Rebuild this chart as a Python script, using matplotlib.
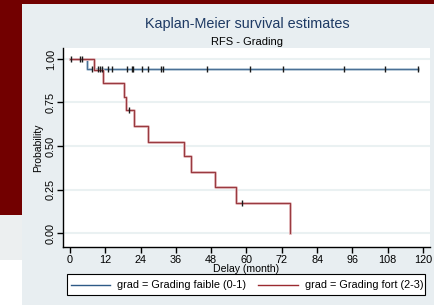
import matplotlib
matplotlib.use('Agg')
import matplotlib.pyplot as plt
from matplotlib.patches import Rectangle

plt.rcParams['font.family'] = ['Liberation Sans', 'DejaVu Sans']

# Kaplan-Meier step data (months, survival)
blue_times = [0, 5.7, 118.2]
blue_surv = [1.0, 0.943, 0.943]
blue_cens_top = [0.2, 3.3, 4.2]
blue_cens = [7.6, 9.5, 10.3, 11.0, 13.0, 14.2, 19.4, 21.0, 21.3, 24.4, 26.6,
             30.9, 31.5, 46.6, 61.1, 72.3, 93.0, 107.0, 118.2]

red_times = [0, 8.3, 11.3, 18.3, 19.0, 21.9, 26.6, 38.7, 41.0, 49.4, 56.3, 74.9]
red_surv = [1.0, 0.937, 0.86, 0.78, 0.705, 0.613, 0.525, 0.44, 0.35, 0.262, 0.175, 0.0]
red_cens_t = [20.0, 58.4]
red_cens_s = [0.705, 0.175]

xticks = list(range(0, 121, 12))
yticks = [0.0, 0.25, 0.5, 0.75, 1.0]
ytick_labels = ['0.00', '0.25', '0.50', '0.75', '1.00']
legend_labels = ['grad = Grading faible (0-1)', 'grad = Grading fort (2-3)']

W, H = 434, 305
fig = plt.figure(figsize=(W / 100, H / 100), dpi=100)
fig.patch.set_facecolor('white')

# background layer in pixel coords (top-left origin)
bg = fig.add_axes([0, 0, 1, 1], zorder=-5)
bg.set_xlim(0, W)
bg.set_ylim(H, 0)
bg.axis('off')
bg.add_patch(Rectangle((0, 0), W, 4, facecolor='#720000', edgecolor='none'))
bg.add_patch(Rectangle((0, 0), 22, 215, facecolor='#720000', edgecolor='none'))
bg.add_patch(Rectangle((0, 215), 22, 45, facecolor='#eceff0', edgecolor='none'))
bg.add_patch(Rectangle((22, 4), W - 22, H - 4, facecolor='#e8eef1', edgecolor='none'))

# legend box, drawn by hand
bg.add_patch(Rectangle((67, 274), 358, 21, facecolor='white', edgecolor='black', lw=0.8))
bg.plot([71, 110], [284.5, 284.5], color='#2e5a86', lw=1.0)
bg.plot([258, 298], [284.5, 284.5], color='#9a2a30', lw=1.0)
bg.text(117, 284.5, legend_labels[0], va='center', ha='left', fontsize=7.8)
bg.text(305, 284.5, legend_labels[1], va='center', ha='left', fontsize=7.8)

ax = fig.add_axes([63 / W, 1 - 247 / H, (430 - 63) / W, (247 - 48) / H])
ax.set_facecolor('white')

for y in yticks:
    ax.axhline(y, color='#eaf1f2', lw=1.5, zorder=1)

ax.step(blue_times, blue_surv, where='post', color='#c4d3df', lw=2.0, zorder=2)
ax.step(blue_times, blue_surv, where='post', color='#4a7096', lw=0.9, zorder=3)
ax.step(red_times, red_surv, where='post', color='#e8c0c3', lw=2.0, zorder=4)
ax.step(red_times, red_surv, where='post', color='#9a3a40', lw=0.9, zorder=5)

ax.plot(blue_cens_top, [1.0] * len(blue_cens_top), ls='none', marker='|',
        ms=4.5, mew=1.0, color='#1a1a1a', zorder=6)
ax.plot(blue_cens, [blue_surv[-1]] * len(blue_cens), ls='none', marker='|',
        ms=4.5, mew=1.0, color='#1a1a1a', zorder=6)
ax.plot(red_cens_t, red_cens_s, ls='none', marker='|',
        ms=4.5, mew=1.0, color='#1a1a1a', zorder=6)

ax.set_xlim(-2.4, 122.4)
ax.set_ylim(-0.08, 1.063)
ax.set_xticks(xticks)
ax.set_yticks(yticks)
ax.set_yticklabels(ytick_labels, rotation=90, va='center')
ax.tick_params(axis='x', direction='out', length=4, width=1, colors='black',
               labelsize=7.8, pad=2)
ax.tick_params(axis='y', direction='out', length=4, width=1, colors='black',
               labelsize=7.8, pad=1)
for s in ['top', 'right']:
    ax.spines[s].set_visible(False)
for s in ['left', 'bottom']:
    ax.spines[s].set_linewidth(1.0)
ax.set_ylabel('Probability', fontsize=7.5)
ax.yaxis.set_label_coords((43 - 63) / 367, 0.5)
ax.set_xlabel('Delay (month)', fontsize=7.6, labelpad=-1)

fig.text(247 / W, 1 - 24 / H, 'Kaplan-Meier survival estimates', ha='center',
         va='center', fontsize=10.4, color='#1e3a64')
fig.text(247 / W, 1 - 42 / H, 'RFS - Grading', ha='center', va='center',
         fontsize=8.0, color='black')

fig.savefig('out.png', dpi=100)
